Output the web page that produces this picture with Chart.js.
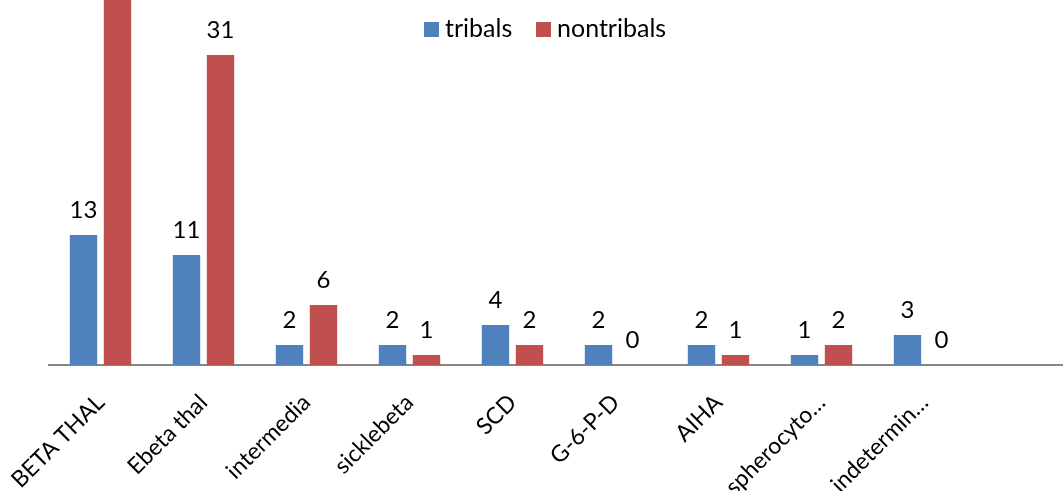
<!DOCTYPE html>
<html>
<head>
<meta charset="utf-8">
<script src="https://cdn.jsdelivr.net/npm/chart.js@4.4.1/dist/chart.umd.min.js"></script>
<style>
  html, body { margin: 0; padding: 0; background: #ffffff; overflow: hidden; }
  #wrap { width: 1063px; height: 491px; overflow: hidden; position: relative; }
  canvas { display: block; }
</style>
</head>
<body>
<div id="wrap"><canvas id="chart" width="1090" height="491"></canvas></div>
<script>
// Haemolytic anaemia cases by diagnosis
const categories = ['BETA THAL', 'Ebeta thal', 'intermedia', 'sicklebeta', 'SCD', 'G-6-P-D', 'AIHA', 'spherocyto…', 'indetermin…', ''];
const tribals    = [13, 11, 2, 2, 4, 2, 2, 1, 3, null];
const nontribals = [40, 31, 6, 1, 2, 0, 1, 2, 0, null];
const seriesNames = ['tribals', 'nontribals'];
const seriesColors = ['#4F81BD', '#C0504D'];

const FONT = 'Lato, "Open Sans", "DejaVu Sans", sans-serif';

// value labels above each bar
const valueLabels = {
  id: 'valueLabels',
  afterDatasetsDraw(chart) {
    const ctx = chart.ctx;
    ctx.save();
    ctx.font = '24px ' + FONT;
    ctx.fillStyle = '#000000';
    ctx.textAlign = 'center';
    ctx.textBaseline = 'alphabetic';
    chart.data.datasets.forEach((ds, i) => {
      const meta = chart.getDatasetMeta(i);
      meta.data.forEach((bar, j) => {
        const v = ds.data[j];
        if (v === null || v === undefined) return;
        ctx.fillText(String(v), bar.x, bar.y - 17);
      });
    });
    ctx.restore();
  }
};

// legend drawn inside the plot area
const legendX = [424, 536];
const innerLegend = {
  id: 'innerLegend',
  afterDraw(chart) {
    const ctx = chart.ctx;
    ctx.save();
    ctx.font = '25px ' + FONT;
    ctx.textBaseline = 'alphabetic';
    ctx.textAlign = 'left';
    chart.data.datasets.forEach((ds, i) => {
      const x = legendX[i];
      ctx.fillStyle = ds.backgroundColor;
      ctx.fillRect(x, 22, 15, 15);
      ctx.fillStyle = '#000000';
      ctx.fillText(ds.label, x + 21, 37);
    });
    ctx.restore();
  }
};

new Chart(document.getElementById('chart'), {
  type: 'bar',
  data: {
    labels: categories,
    datasets: [
      { label: seriesNames[0], data: tribals, backgroundColor: seriesColors[0] },
      { label: seriesNames[1], data: nontribals, backgroundColor: seriesColors[1] }
    ]
  },
  options: {
    responsive: false,
    animation: false,
    devicePixelRatio: 1,
    layout: { padding: { left: 49, right: 11, top: 0, bottom: 0 } },
    datasets: { bar: { categoryPercentage: 0.66, barPercentage: 0.806 } },
    plugins: { legend: { display: false }, tooltip: { enabled: false } },
    scales: {
      x: {
        grid: { display: false, drawTicks: false },
        border: { display: true, color: '#868686', width: 2 },
        ticks: {
          color: '#000000',
          font: { family: FONT, size: 23 },
          minRotation: 45,
          maxRotation: 45,
          autoSkip: false,
          padding: 24
        },
        afterFit(scale) {
          scale.height = 126;
          scale.paddingLeft = 0;
          scale.paddingRight = 0;
        }
      },
      y: {
        display: false,
        min: 0,
        max: 36.5
      }
    }
  },
  plugins: [valueLabels, innerLegend]
});
</script>
</body>
</html>
